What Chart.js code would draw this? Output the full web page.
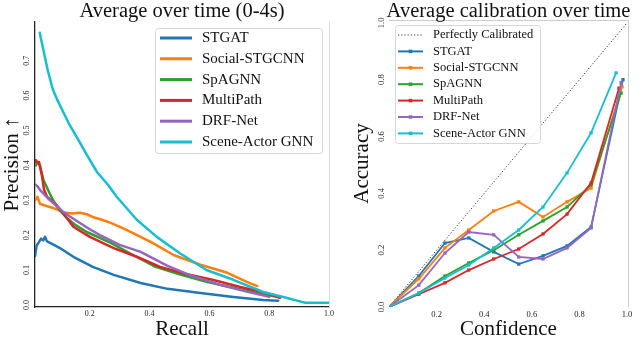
<!DOCTYPE html>
<html><head><meta charset="utf-8">
<script src="https://cdn.jsdelivr.net/npm/chart.js@4.4.0/dist/chart.umd.min.js"></script>
<style>
html,body{margin:0;padding:0;background:#fff;overflow:hidden;width:640px;height:338px}
canvas{position:absolute;top:0}
#c1{left:0;width:340px;height:338px}
#c2{left:340px;width:300px;height:338px}
</style></head><body>
<canvas id="c1" width="340" height="338"></canvas>
<canvas id="c2" width="300" height="338"></canvas>
<script>
const SERIF = '"Liberation Serif", "DejaVu Serif", serif';
const models = ['STGAT','Social-STGCNN','SpAGNN','MultiPath','DRF-Net','Scene-Actor GNN'];
const colors = ['#1f77b4','#ff7f0e','#2ca02c','#d62728','#9467bd','#17becf'];

// ---- Left: precision / recall ----
const recallTicks = [0.2,0.4,0.6,0.8,1.0];
const recallLabels = ['0.2','0.4','0.6','0.8','1.0'];
const precisionTicks = [0,0.1,0.2,0.3,0.4,0.5,0.6,0.7];
const precisionLabels = ['0.0','0.1','0.2','0.3','0.4','0.5','0.6','0.7'];

const stgatRecall = [0.017,0.022,0.03,0.037,0.044,0.05,0.057,0.08,0.1,0.145,0.21,0.28,0.37,0.46,0.57,0.68,0.78,0.83];
const stgatPrec   = [0.14,0.17,0.18,0.19,0.185,0.195,0.182,0.172,0.163,0.138,0.109,0.086,0.063,0.046,0.034,0.023,0.014,0.012];
const socialRecall = [0.017,0.025,0.033,0.05,0.077,0.1,0.12,0.14,0.167,0.19,0.21,0.24,0.27,0.31,0.345,0.41,0.48,0.57,0.66,0.725,0.76];
const socialPrec   = [0.30,0.31,0.29,0.285,0.278,0.27,0.264,0.262,0.264,0.26,0.252,0.244,0.235,0.22,0.206,0.178,0.143,0.115,0.092,0.066,0.054];
const spagnnRecall = [0.02,0.025,0.033,0.045,0.06,0.077,0.1,0.12,0.15,0.19,0.27,0.345,0.42,0.5,0.59,0.68,0.77,0.826];
const spagnnPrec   = [0.40,0.41,0.40,0.358,0.33,0.30,0.27,0.252,0.23,0.209,0.178,0.143,0.109,0.088,0.066,0.049,0.032,0.023];
const multipathRecall = [0.017,0.02,0.03,0.035,0.04,0.047,0.057,0.07,0.09,0.11,0.145,0.2,0.28,0.357,0.435,0.525,0.61,0.70,0.79,0.836];
const multipathPrec   = [0.415,0.41,0.41,0.39,0.37,0.33,0.31,0.30,0.285,0.264,0.224,0.195,0.163,0.138,0.109,0.088,0.072,0.052,0.034,0.02];
const drfRecall = [0.017,0.025,0.033,0.05,0.067,0.09,0.11,0.14,0.167,0.2,0.234,0.30,0.37,0.46,0.545,0.635,0.725,0.80];
const drfPrec   = [0.345,0.34,0.33,0.315,0.30,0.283,0.267,0.25,0.235,0.217,0.20,0.172,0.152,0.112,0.082,0.058,0.038,0.023];
const sagRecall = [0.033,0.036,0.04,0.05,0.06,0.077,0.09,0.107,0.13,0.157,0.19,0.224,0.26,0.29,0.357,0.424,0.50,0.59,0.68,0.78,0.86,0.89,0.92,0.99,1.0];
const sagPrec   = [0.78,0.765,0.75,0.71,0.67,0.616,0.59,0.56,0.52,0.48,0.43,0.381,0.345,0.31,0.244,0.195,0.149,0.10,0.072,0.037,0.02,0.013,0.006,0.006,0.006];

// ---- Right: calibration ----
const confTicks = [0.2,0.4,0.6,0.8,1.0];
const confLabels = ['0.2','0.4','0.6','0.8','1.0'];
const accTicks = [0,0.2,0.4,0.6,0.8,1.0];
const accLabels = ['0.0','0.2','0.4','0.6','0.8','1.0'];
const diagX = [0,1];
const diagY = [0,1];
const confBins = [0,0.125,0.235,0.335,0.44,0.545,0.647,0.748,0.849];
const lastConf = [0.983,0.979,0.975,0.966,0.975,0.954];
const stgatAcc     = [0,0.109,0.225,0.243,0.194,0.151,0.18,0.215,0.282,0.80];
const socialAcc    = [0,0.099,0.208,0.271,0.338,0.37,0.317,0.37,0.419,0.775];
const spagnnAcc    = [0,0.049,0.109,0.155,0.20,0.254,0.303,0.352,0.43,0.753];
const multipathAcc = [0,0.045,0.085,0.13,0.169,0.204,0.257,0.327,0.437,0.77];
const drfAcc       = [0,0.077,0.19,0.264,0.254,0.176,0.169,0.208,0.278,0.79];
const sagAcc       = [0,0.049,0.102,0.148,0.208,0.271,0.352,0.472,0.613,0.824];

function pts(xs, ys){ return xs.map((x,i)=>({x:x, y:ys[i]})); }

const decor = {
  id:'decor',
  afterDatasetsDraw(chart, args, o){
    const ctx = chart.ctx, a = chart.chartArea;
    ctx.save();
    (o.spines||[]).forEach(s=>{
      ctx.strokeStyle = s.color; ctx.lineWidth = 1; ctx.beginPath();
      if (s.side==='right'){ ctx.moveTo(a.right+0.5,a.top); ctx.lineTo(a.right+0.5,a.bottom); }
      if (s.side==='top'){ ctx.moveTo(a.left,a.top+0.5); ctx.lineTo(a.right+1,a.top+0.5); }
      ctx.stroke();
    });
    const L = o.legend;
    if (L){
      ctx.fillStyle='rgba(255,255,255,0.85)'; ctx.strokeStyle='#d6d6d6'; ctx.lineWidth=1;
      ctx.beginPath(); ctx.roundRect(L.x+0.5, L.y+0.5, L.w, L.h, 3); ctx.fill(); ctx.stroke();
      chart.data.datasets.forEach((ds,i)=>{
        const cy = L.firstY + i*L.rowH;
        ctx.strokeStyle = ds.borderColor; ctx.lineWidth = ds.legendLineW || L.lineW;
        ctx.setLineDash(ds.borderDash||[]);
        ctx.beginPath(); ctx.moveTo(L.sx, cy); ctx.lineTo(L.sx+L.sw, cy); ctx.stroke();
        ctx.setLineDash([]);
        if (L.marker && ds.pointRadius>0){
          ctx.fillStyle = ds.borderColor; const m = L.markerSize;
          ctx.fillRect(L.sx+L.sw/2-m/2, cy-m/2, m, m);
        }
        ctx.fillStyle='#111'; ctx.font = L.font+'px '+SERIF; ctx.textBaseline='middle'; ctx.textAlign='left';
        ctx.fillText(ds.label, L.tx, cy);
      });
    }
    ctx.restore();
  },
  afterDraw(chart, args, o){
    const ctx = chart.ctx, a = chart.chartArea;
    ctx.save();
    ctx.fillStyle='#111'; ctx.font = o.titleSize+'px '+SERIF; ctx.textAlign='center'; ctx.textBaseline='alphabetic';
    ctx.fillText(o.title, (a.left+a.right)/2, o.titleY);
    ctx.restore();
  }
};

function tickFont(sz){ return {family:SERIF, size:sz}; }

// Left chart
const leftSets = [
  [stgatRecall, stgatPrec],[socialRecall, socialPrec],[spagnnRecall, spagnnPrec],
  [multipathRecall, multipathPrec],[drfRecall, drfPrec],[sagRecall, sagPrec]
].map((p,i)=>({
  label: models[i], data: pts(p[0],p[1]), borderColor: colors[i], backgroundColor: colors[i],
  borderWidth: 2.5, pointRadius: 0, showLine: true, tension: 0, fill: false,
  borderJoinStyle:'round', borderCapStyle:'round', order: 6-i
}));

new Chart(document.getElementById('c1'), {
  type:'scatter',
  data:{datasets:leftSets},
  options:{
    responsive:false, animation:false, events:[],
    layout:{padding:{left:0,right:11,top:22,bottom:0}},
    plugins:{legend:{display:false}, tooltip:{enabled:false},
      decor:{title:'Average over time (0-4s)', titleSize:20.5, titleY:17,
        spines:[{side:'right',color:'#dddddd'}],
        legend:{x:155,y:28,w:167,h:125,firstY:38,rowH:20.8,sx:160,sw:32,tx:202,font:15,lineW:3}}},
    scales:{
      x:{type:'linear', min:0.0167, max:1.0,
        afterBuildTicks:s=>{ s.ticks = recallTicks.map(v=>({value:v})); },
        afterFit:s=>{ s.height = 31; },
        grid:{display:false, drawTicks:false}, border:{display:true,color:'#222',width:1.3},
        ticks:{padding:2, font:tickFont(8), color:'#222', maxRotation:0, minRotation:0, autoSkip:false,
          callback:(v,i)=>recallLabels[i]},
        title:{display:true, text:'Recall', color:'#111', font:{family:SERIF,size:21,lineHeight:0.8}, padding:0}},
      y:{type:'linear', min:-0.006, max:0.811,
        afterBuildTicks:s=>{ s.ticks = precisionTicks.map(v=>({value:v})); },
        afterFit:s=>{ s.width = 35; },
        grid:{display:false, drawTicks:false}, border:{display:true,color:'#222',width:1.3},
        ticks:{padding:3, font:tickFont(8), color:'#222', minRotation:90, maxRotation:90, crossAlign:'center', autoSkip:false,
          callback:(v,i)=>precisionLabels[i]},
        title:{display:true, text:'Precision ↑', color:'#111', font:{family:SERIF,size:21,lineHeight:1.2}, padding:{top:0,bottom:0}}}
    }
  },
  plugins:[decor]
});

// Right chart
const accs = [stgatAcc, socialAcc, spagnnAcc, multipathAcc, drfAcc, sagAcc];
const rightSets = [{
  label:'Perfectly Calibrated', data: pts(diagX, diagY), borderColor:'#333', backgroundColor:'#333',
  borderDash:[1.2,2], borderWidth:1, pointRadius:0, showLine:true, order:10, legendLineW:1
}].concat(accs.map((acc,i)=>({
  label: models[i], data: pts(confBins.concat([lastConf[i]]), acc), borderColor: colors[i], backgroundColor: colors[i],
  borderWidth: 1.8, pointRadius: 2.3, pointStyle:'rect', pointBorderWidth:0, pointBackgroundColor: colors[i],
  showLine: true, tension: 0, fill:false, order: 6-i
})));

new Chart(document.getElementById('c2'), {
  type:'scatter',
  data:{datasets:rightSets},
  options:{
    responsive:false, animation:false, events:[],
    layout:{padding:{left:0,right:12,top:20,bottom:0}},
    plugins:{legend:{display:false}, tooltip:{enabled:false},
      decor:{title:'Average calibration over time', titleSize:20.5, titleY:17,
        spines:[{side:'right',color:'#cccccc'},{side:'top',color:'#cccccc'}],
        legend:{x:55,y:25,w:145,h:118,firstY:35,rowH:16.4,sx:58,sw:25,tx:93,font:12.5,lineW:2,marker:true,markerSize:3.5}}},
    scales:{
      x:{type:'linear', min:0, max:1.004,
        afterBuildTicks:s=>{ s.ticks = confTicks.map(v=>({value:v})); },
        afterFit:s=>{ s.height = 31; },
        grid:{display:false, drawTicks:false}, border:{display:false},
        ticks:{padding:3, font:tickFont(8.5), color:'#222', maxRotation:0, minRotation:0, autoSkip:false,
          callback:(v,i)=>confLabels[i]},
        title:{display:true, text:'Confidence', color:'#111', font:{family:SERIF,size:21,lineHeight:0.8}, padding:0}},
      y:{type:'linear', min:0, max:1.01,
        afterBuildTicks:s=>{ s.ticks = accTicks.map(v=>({value:v})); },
        afterFit:s=>{ s.width = 49; },
        grid:{display:false, drawTicks:false}, border:{display:false},
        ticks:{padding:2, font:tickFont(8.5), color:'#222', minRotation:90, maxRotation:90, crossAlign:'center', autoSkip:false,
          callback:(v,i)=>accLabels[i]},
        title:{display:true, text:'Accuracy', color:'#111', font:{family:SERIF,size:21,lineHeight:1.2}, padding:{top:10,bottom:0}}}
    }
  },
  plugins:[decor]
});
</script></body></html>
